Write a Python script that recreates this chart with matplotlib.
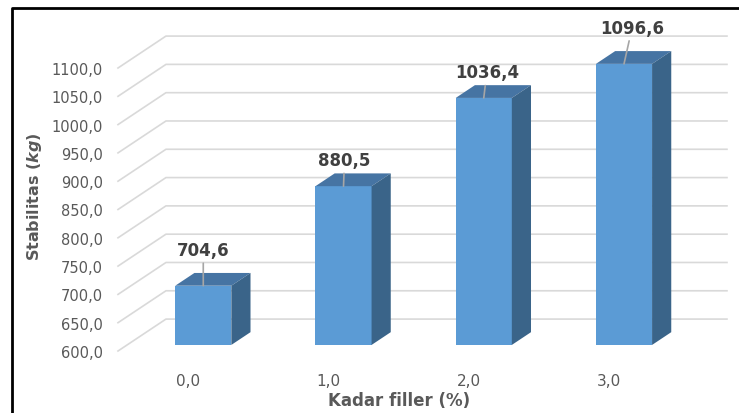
import matplotlib.pyplot as plt
from matplotlib.patches import Polygon
from matplotlib.lines import Line2D

plt.rcParams['mathtext.fontset'] = 'custom'
plt.rcParams['mathtext.it'] = 'DejaVu Sans:italic:bold'

kadar = ['0,0', '1,0', '2,0', '3,0']
stabilitas = [704.6, 880.5, 1036.4, 1096.6]
yticks = [600, 650, 700, 750, 800, 850, 900, 950, 1000, 1050, 1100]

# pseudo 3d: depth shift of the back wall in data units
dx, dy = 0.342, 56.4
d0, bd = 0.19, 0.40      # bar front position and bar depth (fraction of wall depth)
bw = 0.40
base = 600

front_c = '#5B9BD5'
top_c = '#4674A3'
side_c = '#3A6489'
grey = '#595959'

fig = plt.figure(figsize=(7.39, 4.14), dpi=100)
ax = fig.add_axes([118/739, 62/414, 561/739, 283/414])
ax.set_xlim(-0.5, 3.5)
ax.set_ylim(600, 1100)

# gridlines: diagonal from the front + line along the back wall
for v in yticks:
    ax.plot([-0.5, -0.5 + dx, 3.5 + dx], [v, v + dy, v + dy],
            color='#D9D9D9', lw=1.2, clip_on=False, zorder=1)

# value-label offsets in points (layout only)
offs = [(0, 25.7), (0.7, 18.7), (2.2, 18.4), (5.8, 26)]

for i, v in enumerate(stabilitas):
    L = i - 0.157 + dx * d0
    R = L + bw
    b = base + dy * d0
    t = v + dy * d0
    ddx, ddy = dx * bd, dy * bd
    ax.add_patch(Polygon([(L, b), (R, b), (R, t), (L, t)], closed=True,
                         fc=front_c, ec='none', clip_on=False, zorder=3))
    ax.add_patch(Polygon([(L, t), (R, t), (R + ddx, t + ddy), (L + ddx, t + ddy)],
                         closed=True, fc=top_c, ec='none', clip_on=False, zorder=3))
    ax.add_patch(Polygon([(R, b), (R, t), (R + ddx, t + ddy), (R + ddx, b + ddy)],
                         closed=True, fc=side_c, ec='none', clip_on=False, zorder=3))
    ax.annotate(f'{v:.1f}'.replace('.', ','), xy=((L + R) / 2, t),
                xytext=offs[i], textcoords='offset points',
                ha='center', va='center', fontsize=12, fontweight='bold',
                color='#404040', annotation_clip=False, zorder=5,
                arrowprops=dict(arrowstyle='-', color='#A6A6A6', lw=1.2,
                                shrinkA=1, shrinkB=0))

ax.set_yticks(yticks)
ax.set_yticklabels([f'{v:.1f}'.replace('.', ',') for v in yticks])
ax.set_xticks(range(len(kadar)))
ax.set_xticklabels(kadar)
ax.tick_params(length=0, colors=grey, labelsize=10.5)
ax.tick_params(axis='y', pad=11)
ax.tick_params(axis='x', pad=16, labelsize=11)
for s in ax.spines.values():
    s.set_visible(False)
ax.patch.set_visible(False)

fig.text(34/739, 1 - 197/414, r'Stabilitas ($\mathit{kg}$)', rotation=90,
         ha='center', va='center', fontsize=11.5, fontweight='bold', color=grey)
fig.text(399/739, 1 - 401/414, 'Kadar filler (%)', ha='center', va='center',
         fontsize=12, fontweight='bold', color=grey)

# frame line on the left and top
fig.add_artist(Line2D([12/739, 12/739, 1], [0, 1 - 9/414, 1 - 9/414],
                      color='black', lw=2))

fig.savefig('out.png', dpi=100)
